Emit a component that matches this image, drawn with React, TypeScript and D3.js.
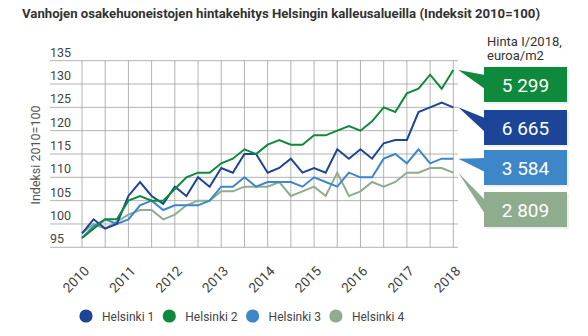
import React from "react";
import * as d3 from "d3";

const years = [2010, 2011, 2012, 2013, 2014, 2015, 2016, 2017, 2018];
const yTicks = [95, 100, 105, 110, 115, 120, 125, 130, 135];
const seriesNames = ["Helsinki 1", "Helsinki 2", "Helsinki 3", "Helsinki 4"];
const colors = ["#1c4597", "#0f8a3c", "#3d87c9", "#8fac8f"];
const prices = ["6 665", "5 299", "3 584", "2 809"];

const helsinki1 = [98, 101, 99, 100, 106, 109, 106, 104.3, 108, 106, 110, 108, 112, 111, 115, 115, 111, 112, 114, 111, 112, 111, 116, 114, 116, 114, 117.3, 118, 118, 124, 125, 126, 125];
const helsinki2 = [97, 99, 101, 101, 105, 106, 105, 105, 107.5, 110, 111, 111, 113, 114, 116, 115, 117, 118, 117, 117, 119, 119, 120, 121, 120, 122, 125, 124, 128, 129, 132, 129, 133];
const helsinki3 = [97, 99.5, 101, 100, 101, 104, 105, 103, 104, 104, 104, 105, 108, 108, 110, 108, 109, 109, 109, 108, 110, 109, 108, 111, 110, 110, 114, 115, 113, 116, 113, 114, 114];
const helsinki4 = [98, 100, 99, 100.5, 102, 103, 103, 101, 102, 104, 105, 105, 107, 107, 108, 108, 108, 109, 106, 107, 108, 106, 111, 106, 107, 109, 108, 109, 111, 111, 112, 112, 111];

const allSeries = [helsinki1, helsinki2, helsinki3, helsinki4];

export default function App() {
  const x = d3.scaleLinear().domain([2010, 2018]).range([82, 453.3]);
  const y = d3.scaleLinear().domain([95, 135]).range([247.3, 60.7]);
  const tOf = (i: number) => 2010 + i / 4;
  const line = d3
    .line<number>()
    .x((_, i) => x(tOf(i)))
    .y((d) => y(d));

  const halfYears = d3.range(2010, 2018.01, 0.5);
  const font = "Roboto, 'Open Sans', sans-serif";

  // callout boxes: order top to bottom: green, dark blue, light blue, sage
  const boxOrder = [1, 0, 2, 3];
  const boxTops = [67, 110, 150, 192];
  const boxLeft = 484;
  const boxW = 83;
  const boxH = 35;

  return (
    <svg width={588} height={336} style={{ position: "absolute", left: 0, top: 0 }} fontFamily={font}>
      <rect width={588} height={336} fill="#fff" />
      <text x={22} y={18} fontSize={13.2} fontWeight="bold" fill="#333">
        Vanhojen osakehuoneistojen hintakehitys Helsingin kalleusalueilla (Indeksit 2010=100)
      </text>
      {yTicks.map((t) => (
        <g key={t}>
          <line x1={50} x2={458} y1={y(t)} y2={y(t)} stroke="#a0a0a0" strokeWidth={0.8} />
          <text x={50} y={y(t) - 4} fontSize={12.5} fill="#444">
            {t}
          </text>
        </g>
      ))}
      {halfYears.map((t) => (
        <line key={t} x1={x(t)} x2={x(t)} y1={y(135)} y2={y(95)} stroke="#a0a0a0" strokeWidth={0.8} />
      ))}
      <text
        transform={`translate(40,155) rotate(-90)`}
        textAnchor="middle"
        fontSize={12.5}
        fill="#555"
      >
        Indeksi 2010=100
      </text>
      {years.map((yr) => (
        <text
          key={yr}
          transform={`translate(${x(yr) + 8},${272}) rotate(-45)`}
          textAnchor="end"
          fontSize={13.5}
          fill="#444"
        >
          {yr}
        </text>
      ))}
      {[3, 2, 0, 1].map((s) => (
        <path key={s} d={line(allSeries[s]) || ""} fill="none" stroke={colors[s]} strokeWidth={2} strokeLinejoin="miter" />
      ))}
      <text x={487} y={46} fontSize={13} fill="#333">
        Hinta I/2018,
      </text>
      <text x={487} y={59.5} fontSize={13} fill="#333">
        euroa/m2
      </text>
      {boxOrder.map((s, j) => {
        const top = boxTops[j];
        const data = allSeries[s];
        const tipX = x(2018) + 5;
        const tipY = y(data[data.length - 1]);
        const b1 = top + 8;
        const b2 = top + 22;
        return (
          <g key={s}>
            <rect x={boxLeft + 2} y={top + 2} width={boxW} height={boxH} fill="#000" opacity={0.06} />
            <path d={`M${tipX},${tipY}L${boxLeft + 1},${b1}L${boxLeft + 1},${b2}Z`} fill={colors[s]} />
            <rect x={boxLeft} y={top} width={boxW} height={boxH} fill={colors[s]} />
            <text
              x={boxLeft + boxW / 2}
              y={top + 25}
              textAnchor="middle"
              fontSize={19}
              fill="#fff"
            >
              {prices[s]}
            </text>
          </g>
        );
      })}
      {seriesNames.map((n, i) => {
        const cx = 86 + i * 83.3;
        return (
          <g key={n}>
            <circle cx={cx} cy={316} r={6.6} fill={colors[i]} />
            <text x={cx + 16} y={320.5} fontSize={12} fill="#444">
              {n}
            </text>
          </g>
        );
      })}
    </svg>
  );
}
